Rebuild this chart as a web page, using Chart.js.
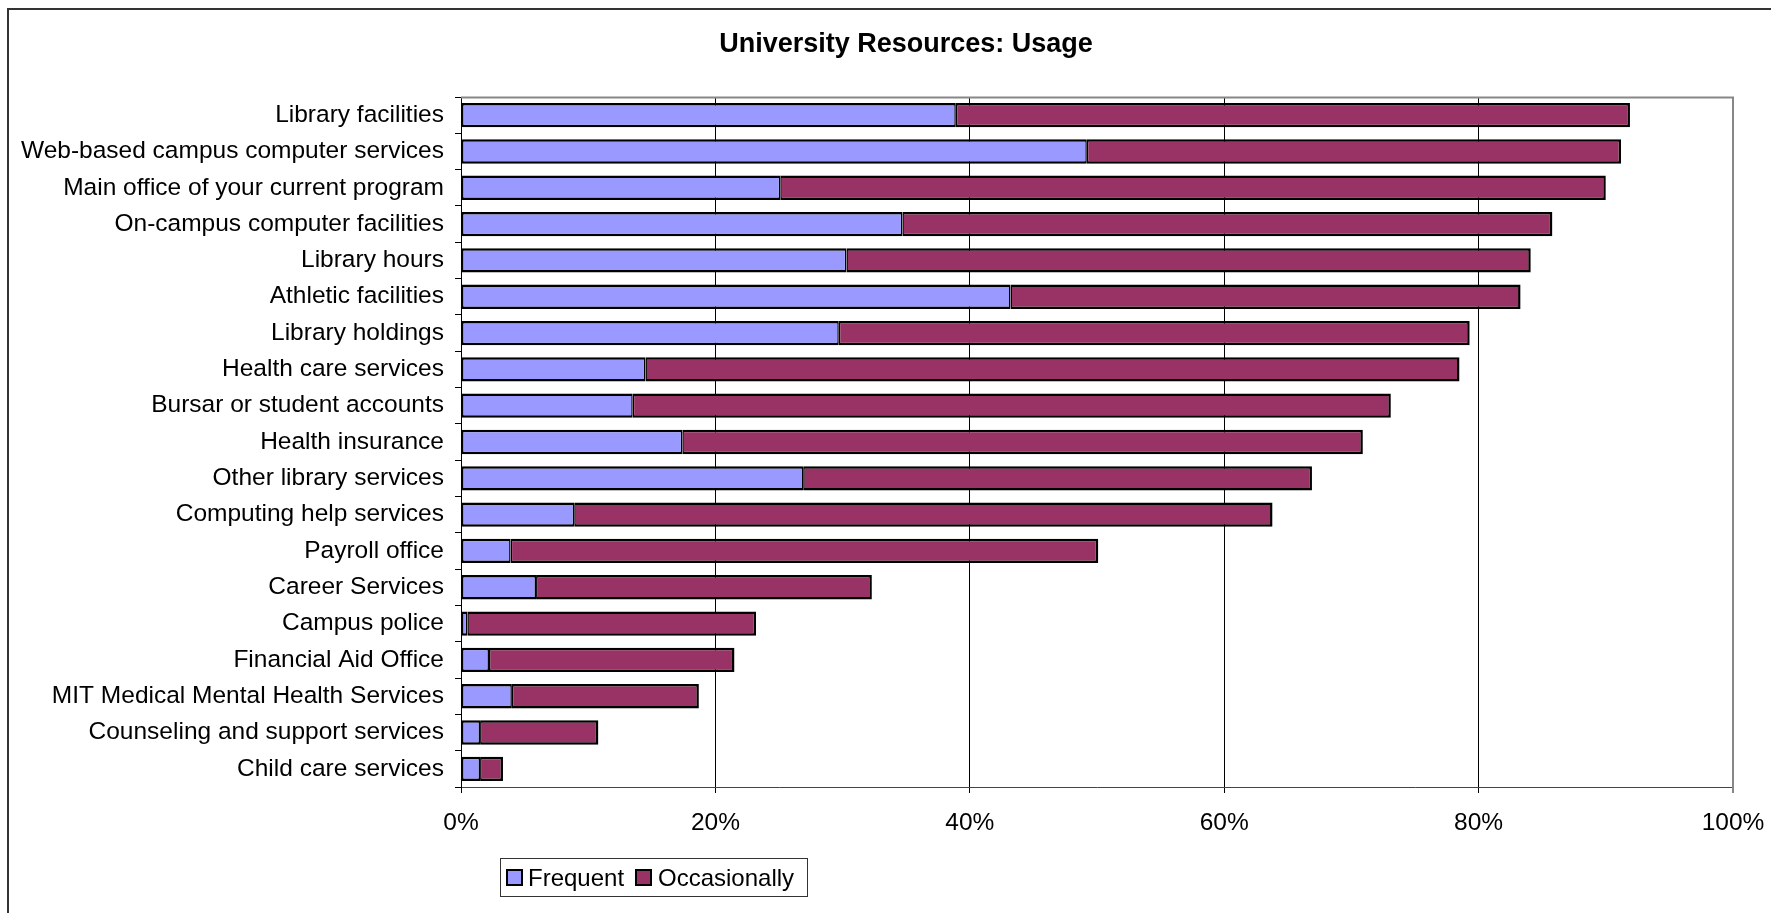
<!DOCTYPE html>
<html>
<head>
<meta charset="utf-8">
<script src="https://cdn.jsdelivr.net/npm/chart.js@4.4.1/dist/chart.umd.min.js"></script>
<style>
  html, body { margin: 0; padding: 0; background: #ffffff; }
  #wrap { width: 1771px; height: 913px; }
</style>
</head>
<body>
<div id="wrap"><canvas id="c" width="1771" height="913"></canvas></div>
<script>
const chartTitle = "University Resources: Usage";
const categories = [
  "Library facilities",
  "Web-based campus computer services",
  "Main office of your current program",
  "On-campus computer facilities",
  "Library hours",
  "Athletic facilities",
  "Library holdings",
  "Health care services",
  "Bursar or student accounts",
  "Health insurance",
  "Other library services",
  "Computing help services",
  "Payroll office",
  "Career Services",
  "Campus police",
  "Financial Aid Office",
  "MIT Medical Mental Health Services",
  "Counseling and support services",
  "Child care services"
];
const seriesNames = ["Frequent", "Occasionally"];
const frequent =     [38.9, 49.2, 25.1, 34.7, 30.3, 43.2, 29.7, 14.5, 13.5, 17.4, 26.9, 8.9, 3.9, 5.9, 0.5, 2.2, 4.0, 1.5, 1.5];
const occasionally = [53.0, 42.0, 64.9, 51.1, 53.8, 40.1, 49.6, 64.0, 59.6, 53.5, 40.0, 54.9, 46.2, 26.4, 22.7, 19.3, 14.7, 9.3, 1.8];
const xTicks = [0, 20, 40, 60, 80, 100];

const FONT = "'Liberation Sans', Arial, Helvetica, sans-serif";

const frameAndLegend = {
  id: 'frameAndLegend',
  beforeDraw(chart) {
    const ctx = chart.ctx;
    ctx.save();
    ctx.fillStyle = '#ffffff';
    ctx.fillRect(0, 0, chart.width, chart.height);
    ctx.strokeStyle = '#333333';
    ctx.lineWidth = 2;
    ctx.strokeRect(8, 9, chart.width + 20, chart.height + 20);
    ctx.restore();
  },
  afterDraw(chart) {
    const ctx = chart.ctx;
    const a = chart.chartArea;
    ctx.save();
    // gray plot border top/right
    ctx.strokeStyle = '#878787';
    ctx.lineWidth = 2;
    ctx.beginPath();
    ctx.moveTo(a.left, a.top + 0.5);
    ctx.lineTo(a.right, a.top + 0.5);
    ctx.lineTo(a.right, a.bottom + 6);
    ctx.stroke();
    // title
    ctx.fillStyle = '#000000';
    ctx.font = "bold 27px " + FONT;
    ctx.textAlign = 'center';
    ctx.textBaseline = 'alphabetic';
    ctx.fillText(chartTitle, 906, 52);
    // legend
    ctx.strokeStyle = '#333333';
    ctx.lineWidth = 1;
    ctx.strokeRect(500.5, 858.5, 307, 38);
    ctx.font = "24px " + FONT;
    ctx.textAlign = 'left';
    const xs = [[507, 528], [636, 658]];
    chart.data.datasets.forEach((ds, i) => {
      ctx.fillStyle = ds.backgroundColor;
      ctx.fillRect(xs[i][0], 870, 15, 15);
      ctx.strokeStyle = '#000000';
      ctx.lineWidth = 2;
      ctx.strokeRect(xs[i][0], 870, 15, 15);
      ctx.fillStyle = '#000000';
      ctx.fillText(ds.label, xs[i][1], 886);
    });
    ctx.restore();
  }
};

new Chart(document.getElementById('c'), {
  type: 'bar',
  data: {
    labels: categories,
    datasets: [
      {
        label: seriesNames[0],
        data: frequent,
        backgroundColor: '#9999FF',
        borderColor: '#000000',
        borderWidth: { top: 2.5, bottom: 2.5, left: 2, right: 1.5 },
        borderSkipped: false,
        categoryPercentage: 1.0,
        barPercentage: 0.67
      },
      {
        label: seriesNames[1],
        data: occasionally,
        backgroundColor: '#993366',
        borderColor: '#000000',
        borderWidth: { top: 2.5, bottom: 2.5, left: 1.5, right: 2.5 },
        borderSkipped: false,
        categoryPercentage: 1.0,
        barPercentage: 0.67
      }
    ]
  },
  options: {
    indexAxis: 'y',
    responsive: false,
    animation: false,
    devicePixelRatio: 1,
    layout: { padding: { top: 97, right: 38, left: 0, bottom: 0 } },
    plugins: {
      legend: { display: false },
      title: { display: false },
      tooltip: { enabled: false }
    },
    scales: {
      x: {
        stacked: true,
        min: 0,
        max: 100,
        afterFit(scale) {
          scale.height = 126;
          scale.paddingLeft = 0;
          scale.paddingRight = 0;
        },
        afterBuildTicks(scale) { scale.ticks = xTicks.map(v => ({ value: v })); },
        ticks: {
          stepSize: 20,
          color: '#000000',
          font: { family: FONT, size: 24.5 },
          padding: 16,
          maxRotation: 0,
          callback: v => v + '%'
        },
        grid: { color: '#000000', lineWidth: 1, tickLength: 6, drawOnChartArea: true },
        border: { display: true, color: '#444444', width: 1 }
      },
      y: {
        stacked: true,
        afterFit(scale) {
          scale.width = 461;
          scale.paddingTop = 0;
          scale.paddingBottom = 0;
        },
        ticks: {
          color: '#000000',
          font: { family: FONT, size: 24.5 },
          padding: 11,
          autoSkip: false
        },
        grid: { offset: true, drawOnChartArea: false, drawTicks: true, tickLength: 6, color: '#000000' },
        border: { display: true, color: '#000000', width: 1 }
      }
    }
  },
  plugins: [frameAndLegend]
});
</script>
</body>
</html>
